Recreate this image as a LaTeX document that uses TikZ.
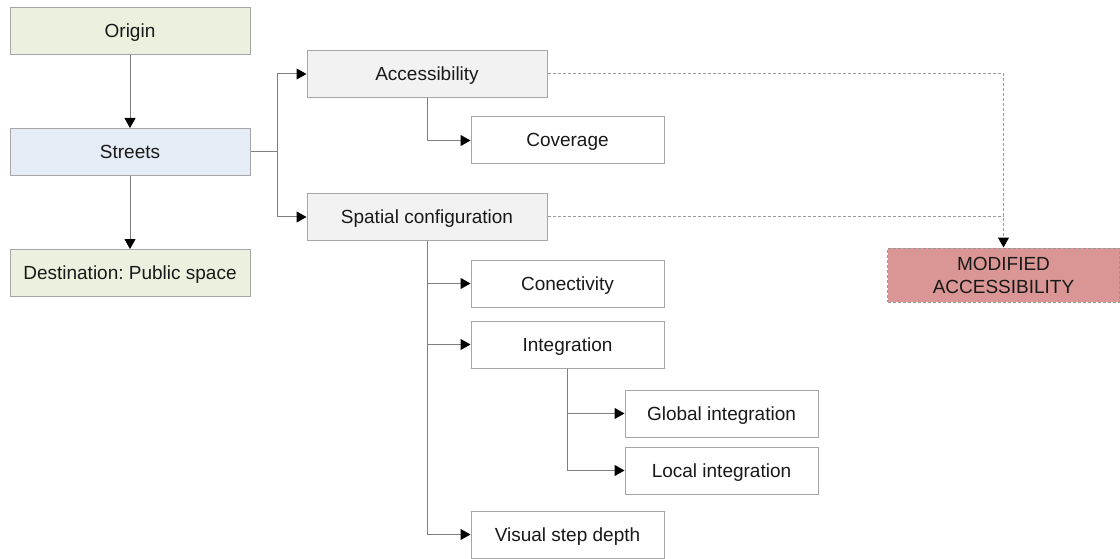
\documentclass[tikz,border=0pt]{standalone}
\usepackage{fontspec}
\setmainfont{Liberation Sans}
\usepackage{xcolor}
\usetikzlibrary{arrows.meta}
\definecolor{boxline}{HTML}{A6A6A6}
\definecolor{linkline}{HTML}{7F7F7F}
\definecolor{greenbox}{HTML}{EBF1DE}
\definecolor{bluebox}{HTML}{E6ECF5}
\definecolor{greybox}{HTML}{F2F2F2}
\definecolor{redbox}{HTML}{D99694}
\frenchspacing

\begin{document}
\begin{tikzpicture}[x=1pt,y=-1pt,
	every node/.style={draw=boxline,line width=1pt,fill=white,inner sep=0pt,
		minimum height=47pt,font=\fontsize{19}{23}\selectfont,text=black!90},
	wide/.style={minimum width=240pt,text height=17pt,text depth=4pt},
	narrow/.style={minimum width=193pt,text height=17pt,text depth=4pt},
	link/.style={draw=linkline,line width=1pt,-{Triangle[length=10pt,width=11pt,color=black]}},
	dashlink/.style={draw=linkline!80,line width=1pt,dash pattern=on 3pt off 2pt}]
	\useasboundingbox (0,0) rectangle (1120,559);
	%left column placed by hand
	\node[wide,fill=greenbox] (origin) at (130,31){Origin};
	\node[wide,fill=bluebox] (streets) at (130,152){Streets};
	\node[wide,fill=greenbox] (dest) at (130,273){Destination: Public space};
	%%middle column
	\node[wide,fill=greybox] (acc) at (427,74){Accessibility};
	\node[narrow] (cov) at (567.5,140.5){Coverage};
	\node[wide,fill=greybox] (spat) at (427,217){Spatial configuration};
	\node[narrow] (conn) at (567.5,283.5){Conectivity};
	\node[narrow] (integ) at (567.5,344.5){Integration};
	\node[narrow] (vsd) at (567.5,534.5){Visual step depth};
	\node[narrow] (glob) at (721.5,413.5){Global integration};
	\node[narrow] (loc) at (721.5,470.5){Local integration};
	\node[minimum width=232pt,minimum height=54pt,fill=redbox,dashlink,
		align=center] (mod) at (1003.5,275){MODIFIED\\ACCESSIBILITY};

	\draw [link](origin)--(streets);
	\draw [link](streets)--(dest);
	\coordinate (split) at (277,152);
	\draw [link](streets.east)--(split)|-(acc.west);
	\draw [link](split)|-(spat.west);
	\draw [link](acc.south)|-(cov.west);
	%% children of spatial configuration with a loop
	\foreach \c in {conn, integ, vsd}{
		\draw [link](spat.south)|-(\c.west);
		}
	\foreach \c in {glob, loc}{
		\draw [link](integ.south)|-(\c.west);
		}
	\draw [dashlink,-{Triangle[length=10pt,width=11pt,color=black]}](acc.east)-|(mod.north);
	\draw [dashlink](spat.east)--(spat.east-|mod.north);
\end{tikzpicture}
\end{document}
